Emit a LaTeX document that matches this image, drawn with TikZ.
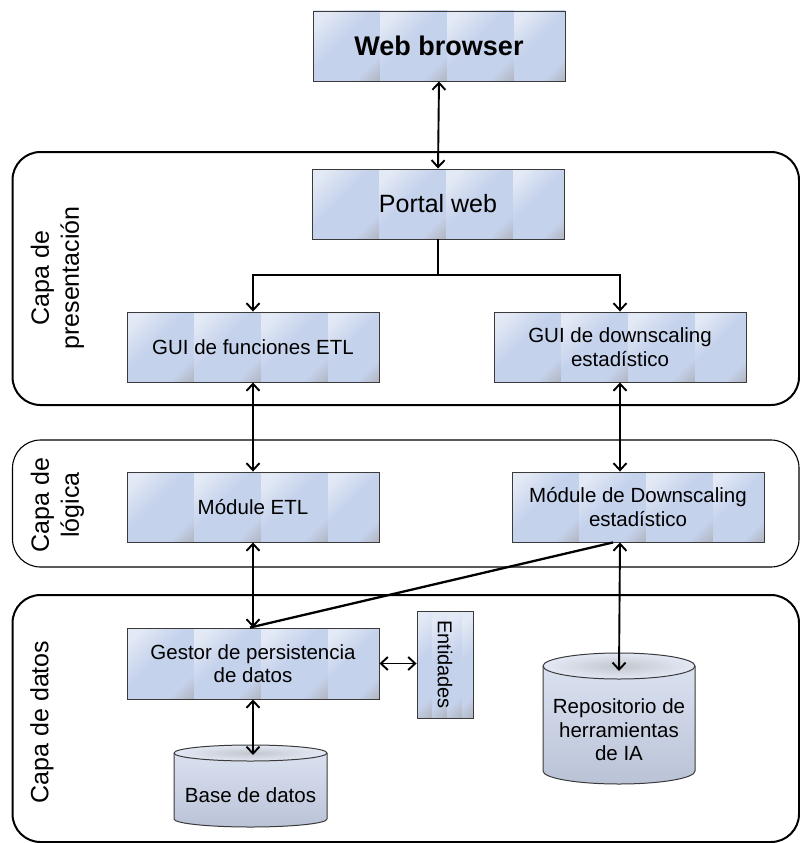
\documentclass[tikz,border=0pt]{standalone}
\usepackage{fontspec}
\setmainfont{Liberation Sans}
\usetikzlibrary{arrows.meta,calc}
\definecolor{stripL}{HTML}{E3E9F5}
\definecolor{stripB}{HTML}{C5D2EC}
\definecolor{stripG}{HTML}{A9AAAE}
\definecolor{edgeC}{HTML}{3A3A3A}
\definecolor{cylT}{HTML}{DDE5F4}
\definecolor{cylB}{HTML}{BAC2D6}
\pgfdeclarehorizontalshading{stripe}{100bp}{color(0bp)=(stripL); color(22bp)=(stripL); color(45bp)=(stripB); color(72bp)=(stripB); color(90bp)=(stripG); color(100bp)=(stripG)}
\newcommand\tiles[5]{%
  \pgfmathsetmacro\tn{int(ceil((#3-#1)/#5)-1)}%
  \foreach \i in {0,...,\tn}{%
    \pgfmathsetmacro\xa{#1+\i*#5}%
    \pgfmathsetmacro\xb{min(#1+(\i+1)*#5,#3)}%
    \shade[shading=stripe,shading angle=-45] (\xa,-#2) rectangle (\xb,-#4);
  }}
\begin{document}
\begin{tikzpicture}[x=1pt,y=1pt,
  layerthick/.style={draw=black, line width=2pt, rounded corners=28pt},
  layerthin/.style={draw=black, line width=1.1pt, rounded corners=28pt},
  boxn/.style={draw=edgeC, line width=0.9pt, inner sep=0pt, align=center,
     font=\fontsize{20.5}{23.5}\selectfont},
  txt/.style={inner sep=0pt, align=center, font=\fontsize{20.5}{23.5}\selectfont},
  lbl/.style={inner sep=0pt, align=center, rotate=90, font=\fontsize{25}{30}\selectfont},
  conn/.style={line width=1.9pt, {Straight Barb[length=7pt,width=13pt]}-{Straight Barb[length=7pt,width=13pt]}},
  conn1/.style={line width=1.9pt, -{Straight Barb[length=7pt,width=13pt]}},
  plainc/.style={line width=1.9pt}
]
\useasboundingbox (0,0) rectangle (800,-843);

% layers
\draw[layerthick] (12.5,-152) rectangle (799,-405);
\draw[layerthin] (12.5,-440) rectangle (799,-567);
\draw[layerthick] (12.5,-595) rectangle (799,-842);

\node[lbl] (lpres) at (57.5,-278) {Capa de\\presentación};
\node[lbl] (llog) at (57.5,-505) {Capa de\\lógica};
\node[lbl] (ldat) at (42,-722) {Capa de datos};

% boxes
\tiles{313}{11}{565}{81}{67}
\node[boxn, minimum width=252pt, minimum height=70pt, font=\bfseries\fontsize{27}{32}\selectfont] (web) at (439,-46) {Web browser};
\tiles{312}{169}{564}{239}{67}
\node[boxn, minimum width=252pt, minimum height=70pt, font=\fontsize{25}{30}\selectfont] (portal) at (438,-204) {Portal web};
\tiles{127}{312}{379}{382}{67}
\node[boxn, minimum width=252pt, minimum height=70pt] (guietl) at (253,-347) {GUI de funciones ETL};
\tiles{494}{312}{746}{382}{67}
\node[boxn, minimum width=252pt, minimum height=70pt] (guidown) at (620,-347) {GUI de downscaling\\estadístico};
\tiles{127}{472}{379}{542}{67}
\node[boxn, minimum width=252pt, minimum height=70pt] (metl) at (253,-507) {Módule ETL};
\tiles{512}{472}{764}{542}{67}
\node[boxn, minimum width=252pt, minimum height=70pt] (mds) at (638,-507) {Módule de Downscaling\\estadístico};
\tiles{127}{628}{379}{699}{67}
\node[boxn, minimum width=252pt, minimum height=71pt] (gestor) at (253,-663.5) {Gestor de persistencia\\de datos};
\tiles{417}{611}{473}{718}{15}
\node[boxn, minimum width=107pt, minimum height=56pt, rotate=-90, font=\fontsize{20}{23}\selectfont] (ent) at (445,-664.5) {Entidades};

% cylinders
\shade[top color=cylT, middle color=stripB, bottom color=cylB] (174,-753) -- (174,-819) arc[start angle=180,end angle=360,x radius=76.5,y radius=8] -- (327,-753) arc[start angle=0,end angle=180,x radius=76.5,y radius=8] -- cycle;
\shade[inner color=stripG!55!stripL, outer color=stripL] (250.5,-753) ellipse[x radius=76.5,y radius=8];
\draw[edgeC, line width=1pt] (174,-753) -- (174,-819) arc[start angle=180,end angle=360,x radius=76.5,y radius=8] -- (327,-753) arc[start angle=0,end angle=180,x radius=76.5,y radius=8] -- cycle;
\draw[edgeC, line width=1pt] (174,-753) arc[start angle=180,end angle=360,x radius=76.5,y radius=8];
\node[txt] (base) at (250.5,-795) {Base de datos};
\coordinate (basetop) at (253,-755);

\shade[top color=cylT, middle color=stripB, bottom color=cylB] (543,-666) -- (543,-771) arc[start angle=180,end angle=360,x radius=76,y radius=13] -- (695,-666) arc[start angle=0,end angle=180,x radius=76,y radius=13] -- cycle;
\shade[inner color=stripG!55!stripL, outer color=stripL] (619,-666) ellipse[x radius=76,y radius=13];
\draw[edgeC, line width=1pt] (543,-666) -- (543,-771) arc[start angle=180,end angle=360,x radius=76,y radius=13] -- (695,-666) arc[start angle=0,end angle=180,x radius=76,y radius=13] -- cycle;
\draw[edgeC, line width=1pt] (543,-666) arc[start angle=180,end angle=360,x radius=76,y radius=13];
\node[txt] (repo) at (619,-730) {Repositorio de\\herramientas\\de IA};
\coordinate (repotop) at (619,-671);

% connectors
\draw[conn] (web.south) -- (portal.north);
\coordinate (branch) at (438,-275);
\draw[plainc] (portal.south) -- (branch);
\draw[conn1] (branch) -| (guietl.north);
\draw[conn1] (branch) -| (guidown.north);
\draw[conn] (guietl.south) -- (metl.north);
\draw[conn] (guidown.south) -- (guidown.south |- mds.north);
\draw[conn] (metl.south) -- (gestor.north);
\draw[conn] (mds.south -| guidown.south) -- (repotop);
\draw[line width=2.3pt] ($(mds.south)+(-25,0)$) -- ($(gestor.north)+(-3,0)$);
\draw[conn] (gestor.east) -- (gestor.east -| ent.south);
\draw[conn] (gestor.south) -- (basetop);
\end{tikzpicture}
\end{document}
